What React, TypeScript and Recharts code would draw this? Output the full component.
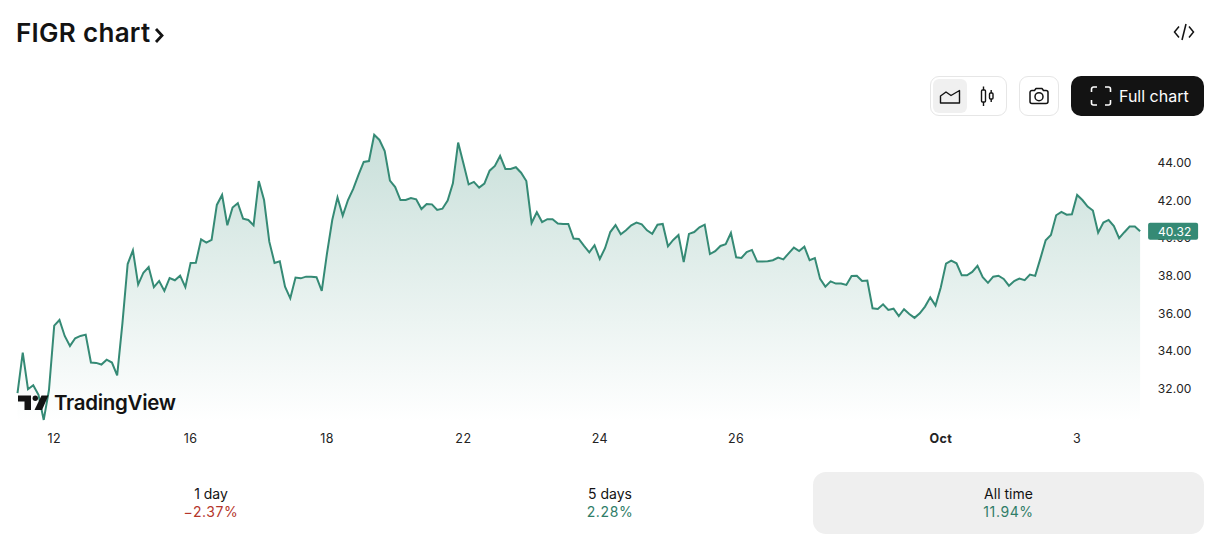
import React from "react";
import { AreaChart, Area, XAxis, YAxis } from "recharts";

const FONT = "Inter, 'Noto Sans', sans-serif";

const prices: number[] = [
  31.72, 33.88, 31.93, 32.14, 31.63, 30.3, 31.89, 35.31, 35.61, 34.76, 34.23, 34.64, 34.76, 34.83, 33.35, 33.33, 33.24, 33.5, 33.35, 32.67,
  35.43, 38.58, 39.31, 37.49, 38.12, 38.42, 37.35, 37.68, 37.15, 37.84, 37.72, 37.96, 37.35, 38.64, 38.65, 39.89, 39.72, 39.86, 41.72, 42.25,
  40.64, 41.58, 41.81, 40.99, 40.92, 40.64, 42.99, 41.98, 39.77, 38.64, 38.73, 37.38, 36.76, 37.86, 37.82, 37.91, 37.91, 37.88, 37.15, 39.15,
  40.92, 42.12, 41.15, 41.98, 42.57, 43.31, 44.0, 44.05, 45.45, 45.17, 44.58, 43.01, 42.67, 41.98, 41.98, 42.09, 42.02, 41.5, 41.77, 41.75,
  41.45, 41.52, 41.95, 42.87, 45.03, 43.93, 42.81, 42.94, 42.64, 42.85, 43.54, 43.79, 44.32, 43.63, 43.63, 43.72, 43.43, 42.99, 40.76, 41.33,
  40.81, 40.96, 40.96, 40.73, 40.71, 40.71, 39.93, 39.91, 39.54, 39.2, 39.58, 38.85, 39.42, 40.28, 40.65, 40.16, 40.37, 40.64, 40.78, 40.69,
  40.37, 40.19, 40.67, 40.71, 39.52, 39.86, 40.12, 38.69, 40.18, 40.28, 40.53, 40.67, 39.11, 39.26, 39.54, 39.63, 40.23, 38.94, 38.9, 39.22,
  39.33, 38.71, 38.71, 38.73, 38.78, 38.92, 38.83, 39.15, 39.45, 39.27, 39.5, 38.78, 38.9, 37.79, 37.38, 37.66, 37.54, 37.54, 37.47, 37.95,
  37.96, 37.68, 37.7, 36.23, 36.19, 36.44, 36.14, 36.21, 35.82, 36.18, 35.93, 35.72, 35.96, 36.32, 36.81, 36.37, 37.33, 38.6, 38.76, 38.62,
  37.98, 37.98, 38.16, 38.48, 37.88, 37.58, 37.91, 37.96, 37.79, 37.43, 37.68, 37.81, 37.72, 38.02, 37.95, 38.88, 39.84, 40.12, 41.17, 41.35,
  41.2, 41.22, 42.25, 41.98, 41.63, 41.42, 40.25, 40.78, 40.92, 40.6, 39.95, 40.27, 40.57, 40.57, 40.32,
];
const chartData = prices.map((price, bar) => ({ bar, price }));

const xTickBars = [7, 33, 59, 85, 111, 137, 176, 202];
const xTickLabels = ["12", "16", "18", "22", "24", "26", "Oct", "3"];
const boldXLabels = ["Oct"];
const yTicks = [32, 34, 36, 38, 40, 42, 44];
const lastPrice = prices[prices.length - 1];
const yDomain = [30.19, 46.23];

const periodNames = ["1 day", "5 days", "All time"];
const periodChanges = ["−2.37%", "2.28%", "11.94%"];

const GREEN = "#358a75";

const XTick = (props: any) => {
  const { x, y, payload } = props;
  const label = xTickLabels[xTickBars.indexOf(payload.value)];
  return (
    <text x={x} y={y + 20} dy={-7} textAnchor="middle" fontFamily={FONT} fontSize={12.5} letterSpacing={0.4} fill="#232323"
      fontWeight={boldXLabels.includes(label) ? 700 : 400}>{label}</text>
  );
};

const YTick = (props: any) => {
  const { x, y, payload } = props;
  const v = payload.value;
  if (v === lastPrice) {
    return (
      <g>
        <rect x={x} y={y - 8.5} width={50} height={17} rx={2} fill={GREEN} />
        <text x={x + 43.5} y={y + 4.5} textAnchor="end" fontFamily={FONT} fontSize={12} letterSpacing={0.15} fill="#fff">{v.toFixed(2)}</text>
      </g>
    );
  }
  return (
    <text x={x + 43.5} y={y + 5} textAnchor="end" fontFamily={FONT} fontSize={12} letterSpacing={0.15} fill="#232323">{v.toFixed(2)}</text>
  );
};

const abs = (left: number, top: number, w: number, h: number, extra: React.CSSProperties = {}): React.CSSProperties => ({
  position: "absolute", left, top, width: w, height: h, ...extra,
});

export default function App() {
  return (
    <div style={abs(0, 0, 1230, 556, { background: "#fff", overflow: "hidden", fontFamily: FONT, color: "#131313" })}>
      <div style={{ position: "absolute", left: 0, top: 0 }}>
        <AreaChart width={1230} height={556} data={chartData} margin={{ top: 120, right: 0, bottom: 0, left: 17.5 }}>
          <defs>
            <linearGradient id="priceFill" x1="0" y1="0" x2="0" y2="1">
              <stop offset="0%" stopColor={GREEN} stopOpacity={0.27} />
              <stop offset="100%" stopColor={GREEN} stopOpacity={0} />
            </linearGradient>
          </defs>
          <XAxis dataKey="bar" type="number" domain={[0, 214]} ticks={xTickBars} interval={0}
            height={134} axisLine={false} tickLine={false} tick={<XTick />} />
          <YAxis orientation="right" width={89.9} domain={yDomain} ticks={[...yTicks, lastPrice]} interval={0}
            axisLine={false} tickLine={false} tick={<YTick />} />
          <Area type="linear" dataKey="price" stroke={GREEN} strokeWidth={2} fill="url(#priceFill)" fillOpacity={1}
            dot={false} activeDot={false} isAnimationActive={false} />
        </AreaChart>
      </div>

      {/* Title */}
      <div style={{ position: "absolute", left: 16, top: 16, fontSize: 26, fontWeight: 600, lineHeight: "34px", letterSpacing: "0.3px", whiteSpace: "nowrap" }}>FIGR chart</div>
      <svg style={abs(150, 20, 20, 26)} viewBox="0 0 20 26">
        <path d="M6 9 L12 15.5 L6 22" fill="none" stroke="#131313" strokeWidth={2.8} />
      </svg>

      {/* Embed icon */}
      <svg style={abs(1172, 20, 24, 24)} viewBox="0 0 24 24" fill="none" stroke="#131313" strokeWidth={1.5}>
        <path d="M7 6.5 L2.5 12 L7 17.5" />
        <path d="M17 6.5 L21.5 12 L17 17.5" />
        <path d="M14 4 L10 20" />
      </svg>

      {/* Chart style buttons */}
      <div style={abs(930, 76, 77, 40, { boxSizing: "border-box", border: "1px solid #e6e6e6", borderRadius: 9 })} />
      <div style={abs(933, 79, 34, 34, { background: "#f0f0f0", borderRadius: 6 })} />
      <svg style={abs(938, 84, 24, 24)} viewBox="0 0 24 24" fill="none" stroke="#131313" strokeWidth={1.4}>
        <path d="M2.5 19 V12 L8 8 L13 11.5 L21.5 6.5 V19 Z" strokeLinejoin="round" />
      </svg>
      <svg style={abs(975, 84, 24, 24)} viewBox="0 0 24 24" fill="none" stroke="#131313" strokeWidth={1.4}>
        <rect x="6.5" y="6" width="4" height="12" rx="1" />
        <path d="M8.5 2.5 V6 M8.5 18 V22" />
        <rect x="14.5" y="9" width="3.5" height="6" rx="1" />
        <path d="M16.2 6 V9 M16.2 15 V18" />
      </svg>

      {/* Camera button */}
      <div style={abs(1019, 76, 40, 40, { boxSizing: "border-box", border: "1px solid #e6e6e6", borderRadius: 9 })} />
      <svg style={abs(1027, 84, 24, 24)} viewBox="0 0 24 24" fill="none" stroke="#131313" strokeWidth={1.5}>
        <path d="M3 8.5 a2 2 0 0 1 2 -2 h2.5 l1.5 -2 h6 l1.5 2 h2.5 a2 2 0 0 1 2 2 v9 a2 2 0 0 1 -2 2 h-14 a2 2 0 0 1 -2 -2 Z" strokeLinejoin="round" />
        <circle cx="12" cy="12.7" r="4" />
      </svg>

      {/* Full chart button */}
      <div style={abs(1071, 76, 133, 40, { background: "#131313", borderRadius: 10 })} />
      <svg style={abs(1089, 84, 24, 24)} viewBox="0 0 24 24" fill="none" stroke="#fff" strokeWidth={1.6}>
        <path d="M2.5 8 V5 a2 2 0 0 1 2 -2 h3.5 M16 3 h3.5 a2 2 0 0 1 2 2 v3 M21.5 16 v3 a2 2 0 0 1 -2 2 h-3.5 M8 21 h-3.5 a2 2 0 0 1 -2 -2 v-3" />
      </svg>
      <div style={{ position: "absolute", left: 1119, top: 84, fontSize: 16, fontWeight: 400, lineHeight: "24px", color: "#fff", whiteSpace: "nowrap" }}>Full chart</div>

      {/* TradingView logo */}
      <svg style={abs(17, 393, 32, 19)} viewBox="0 0 32 19" fill="#131313">
        <path d="M1 2.5 H14 V17 H7.5 V8.5 H1 Z" />
        <circle cx="18.3" cy="5.2" r="2.7" />
        <path d="M24.5 2.5 H31.5 L25 17 H17.5 Z" />
      </svg>
      <div style={{ position: "absolute", left: 54, top: 389, fontSize: 20.5, fontWeight: 600, lineHeight: "28px", letterSpacing: "-0.3px", color: "#131313", whiteSpace: "nowrap" }}>TradingView</div>

      {/* Period summary */}
      <div style={abs(813, 472, 391, 62, { background: "#efefef", borderRadius: 13 })} />
      {periodNames.map((name, i) => {
        const centers = [211, 610, 1008.5];
        const colors = ["#b5362b", "#2f7d68", "#2f7d68"];
        return (
          <div key={name} style={{ position: "absolute", left: centers[i] - 100, top: 485, width: 200, textAlign: "center", fontSize: 14, lineHeight: "18px" }}>
            <div>{name}</div>
            <div style={{ color: colors[i], letterSpacing: "0.6px" }}>{periodChanges[i]}</div>
          </div>
        );
      })}
    </div>
  );
}
